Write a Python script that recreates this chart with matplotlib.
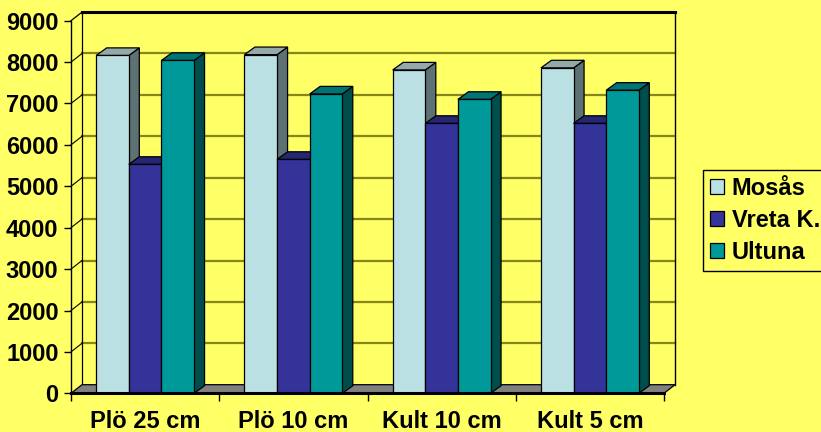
import matplotlib
matplotlib.use("Agg")
import matplotlib.pyplot as plt
from matplotlib.patches import Polygon, Patch

# Data
categories = ["Plö 25 cm", "Plö 10 cm", "Kult 10 cm", "Kult 5 cm"]
series_names = ["Mosås", "Vreta K.", "Ultuna"]
mosas = [8160, 8180, 7810, 7860]
vreta = [5530, 5650, 6520, 6520]
ultuna = [8040, 7230, 7100, 7320]
y_ticks = [0, 1000, 2000, 3000, 4000, 5000, 6000, 7000, 8000, 9000]

# Face colours per series: (front, top, side)
face_colors = [
    ("#BBE0E3", "#93A9AA", "#5E7173"),
    ("#333399", "#262673", "#1A1A4D"),
    ("#009999", "#007373", "#004D4D"),
]
BG = "#FFFF66"
GRID = "#86861A"

plt.rcParams["font.family"] = ["Liberation Sans", "DejaVu Sans"]
plt.rcParams["font.weight"] = "bold"
FS = 17

W, H, DPI = 8.21, 4.32, 100
fig = plt.figure(figsize=(W, H), dpi=DPI, facecolor=BG)
L, B = 71 / 821, (432 - 393.3) / 432
ax = fig.add_axes([L, B, (664 - 71) / 821, (393.3 - 20.7) / 432])
ax.set_xlim(0, len(categories))
ax.set_ylim(0, 9000)
ax.patch.set_visible(False)
for s in ax.spines.values():
    s.set_visible(False)

# pixel -> data conversions for the depth offset
pos = ax.get_position()
px_x = pos.width * W * DPI / len(categories)
px_y = pos.height * H * DPI / 9000.0
wdx, wdy = 11 / px_x, 8.6 / px_y      # wall depth
bdx, bdy = 10.5 / px_x, 7.6 / px_y    # bar depth
n = len(categories)
top = y_ticks[-1]

# back wall
ax.add_patch(Polygon([(wdx, wdy), (n + wdx, wdy), (n + wdx, top + wdy), (wdx, top + wdy)],
                     closed=True, facecolor=BG, edgecolor="none", zorder=1, clip_on=False))
for v in y_ticks[1:-1]:
    ax.plot([wdx, n + wdx], [v + wdy, v + wdy], color=GRID, lw=1.6, zorder=2, clip_on=False)
    ax.plot([0, wdx], [v, v + wdy], color="black", lw=0.8, zorder=2, clip_on=False)
ax.plot([wdx, n + wdx], [top + wdy, top + wdy], color="black", lw=2.2, zorder=2, clip_on=False)
ax.plot([n + wdx, n + wdx], [wdy, top + wdy], color="black", lw=1.0, zorder=2, clip_on=False)
ax.plot([wdx, wdx], [wdy, top + wdy], color="black", lw=0.9, zorder=2, clip_on=False)
ax.plot([0, wdx], [top, top + wdy], color="black", lw=0.9, zorder=2, clip_on=False)

# floor
ax.add_patch(Polygon([(0, 0), (n, 0), (n + wdx, wdy), (wdx, wdy)], closed=True,
                     facecolor="#808080", edgecolor="black", lw=0.9, zorder=3, clip_on=False))

# bars
bw = 0.22
series = [mosas, vreta, ultuna]
z = 5
for i in range(n):
    for k, vals in enumerate(series):
        front, topc, side = face_colors[k]
        x0 = i + 0.5 + (k - 1.5) * bw
        x1 = x0 + bw
        v = vals[i]
        ax.add_patch(Polygon([(x1, 0), (x1 + bdx, bdy), (x1 + bdx, v + bdy), (x1, v)], closed=True,
                             facecolor=side, edgecolor="black", lw=0.9, zorder=z, clip_on=False))
        ax.add_patch(Polygon([(x0, v), (x1, v), (x1 + bdx, v + bdy), (x0 + bdx, v + bdy)], closed=True,
                             facecolor=topc, edgecolor="black", lw=0.9, zorder=z, clip_on=False))
        ax.bar(x0, v, width=bw, align="edge", color=front, edgecolor="black", lw=0.9,
               zorder=z + 0.5, clip_on=False)
        z += 1

# front axis lines
ax.plot([0, 0], [0, top], color="black", lw=1.0, zorder=z + 1, clip_on=False)
ax.plot([0, n], [0, 0], color="black", lw=2.2, zorder=z + 1, clip_on=False)

# ticks and labels
ax.set_yticks(y_ticks)
ax.set_yticklabels([str(t) for t in y_ticks], fontsize=FS, fontweight="bold")
ax.tick_params(axis="y", length=5, width=1, pad=4, direction="out")
ax.set_xticks(range(n + 1))
ax.set_xticklabels([])
ax.set_xticks([i + 0.5 for i in range(n)], minor=True)
ax.set_xticklabels(categories, minor=True, fontsize=FS, fontweight="bold")
ax.tick_params(axis="x", which="major", length=6, width=1, direction="out")
ax.tick_params(axis="x", which="minor", length=0, pad=12)

# legend
handles = [Patch(facecolor=c[0], edgecolor="black", lw=0.9) for c in face_colors]
leg = fig.legend(handles, series_names, loc="upper left",
                 bbox_to_anchor=(702.7 / 821, 1 - 170 / 432), bbox_transform=fig.transFigure,
                 frameon=True, fancybox=False, edgecolor="black", facecolor=BG, framealpha=1,
                 borderaxespad=0, borderpad=0.3, handlelength=0.62, handleheight=0.62,
                 handletextpad=0.3, labelspacing=0.38, prop={"size": FS, "weight": "bold"})
leg.get_frame().set_linewidth(1.0)

fig.savefig("out.png", dpi=DPI, facecolor=BG)
